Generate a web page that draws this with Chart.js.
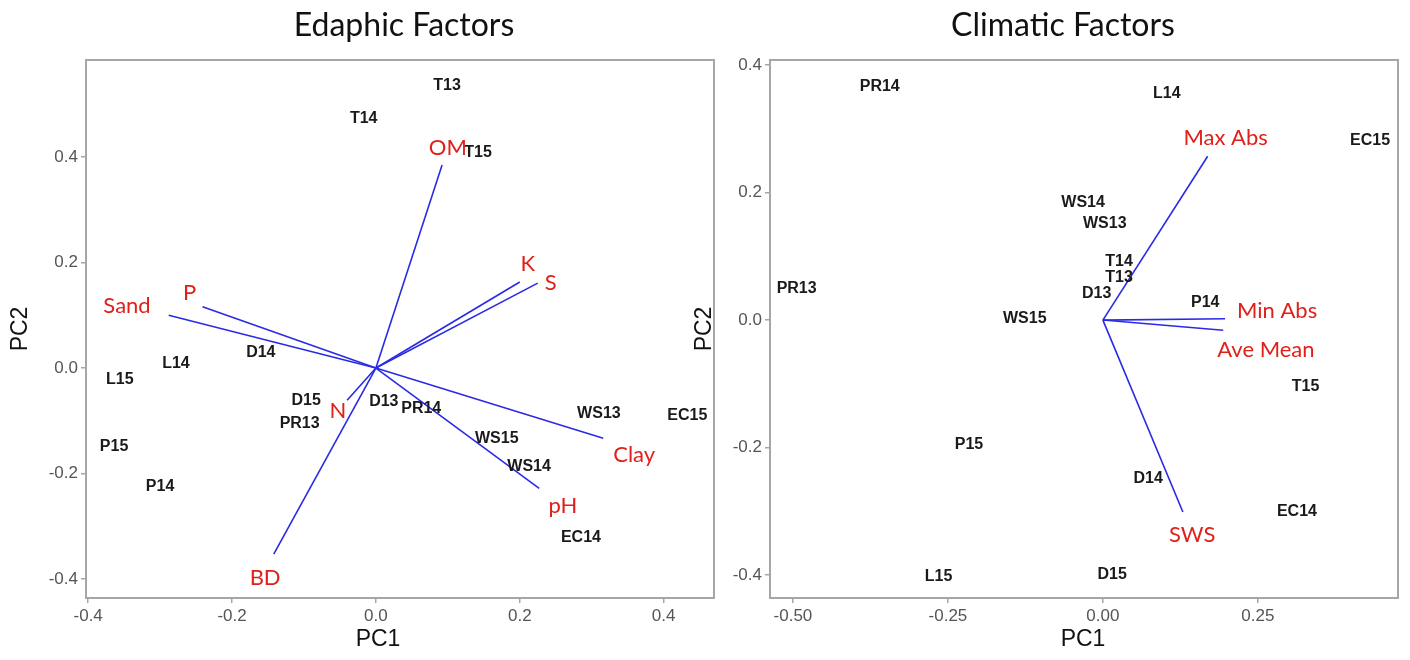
<!DOCTYPE html>
<html>
<head>
<meta charset="utf-8">
<script src="https://cdn.jsdelivr.net/npm/chart.js@4.4.1/dist/chart.umd.min.js"></script>
<style>
  html, body { margin: 0; padding: 0; background: #fff; }
  #wrap { position: relative; width: 1410px; height: 660px; }
  canvas { position: absolute; top: 0; }
  #edaphicChart { left: 0; }
  #climaticChart { left: 690px; }
</style>
</head>
<body>
<div id="wrap">
  <canvas id="edaphicChart" width="720" height="660"></canvas>
  <canvas id="climaticChart" width="720" height="660"></canvas>
</div>
<script>
// ---- Edaphic factors ----
const edaphicSites = ["T13", "T14", "T15", "D14", "L14", "L15", "D15", "PR13", "D13", "PR14", "WS13", "EC15", "WS15", "WS14", "P15", "P14", "EC14"];
const edaphicSitePC1 = [0.099, -0.017, 0.142, -0.160, -0.278, -0.356, -0.097, -0.106, 0.011, 0.063, 0.310, 0.433, 0.168, 0.213, -0.364, -0.300, 0.285];
const edaphicSitePC2 = [0.536, 0.472, 0.408, 0.030, 0.009, -0.021, -0.061, -0.106, -0.063, -0.076, -0.087, -0.091, -0.133, -0.186, -0.148, -0.224, -0.322];

const edaphicVars = ["OM", "K", "S", "Sand", "P", "N", "BD", "Clay", "pH"];
const edaphicLoadPC1 = [0.092, 0.200, 0.225, -0.288, -0.241, -0.040, -0.142, 0.316, 0.227];
const edaphicLoadPC2 = [0.385, 0.163, 0.161, 0.100, 0.116, -0.061, -0.353, -0.133, -0.228];
const edaphicVarLabelPC1 = [0.100, 0.211, 0.243, -0.346, -0.259, -0.053, -0.154, 0.359, 0.260];
const edaphicVarLabelPC2 = [0.417, 0.197, 0.161, 0.118, 0.142, -0.082, -0.398, -0.165, -0.262];

const edaphicXTicks = [-0.4, -0.2, 0, 0.2, 0.4];
const edaphicXTickLabels = ["-0.4", "-0.2", "0.0", "0.2", "0.4"];
const edaphicYTicks = [-0.4, -0.2, 0, 0.2, 0.4];
const edaphicYTickLabels = ["-0.4", "-0.2", "0.0", "0.2", "0.4"];

// ---- Climatic factors ----
const climaticSites = ["PR14", "L14", "EC15", "WS14", "WS13", "T14", "T13", "D13", "PR13", "WS15", "P14", "T15", "P15", "D14", "EC14", "L15", "D15"];
const climaticSitePC1 = [-0.360, 0.103, 0.431, -0.032, 0.003, 0.026, 0.026, -0.010, -0.494, -0.126, 0.165, 0.327, -0.216, 0.073, 0.313, -0.265, 0.015];
const climaticSitePC2 = [0.367, 0.356, 0.282, 0.184, 0.151, 0.091, 0.067, 0.042, 0.049, 0.002, 0.027, -0.104, -0.195, -0.249, -0.300, -0.402, -0.400];

const climaticVars = ["Max Abs", "Min Abs", "Ave Mean", "SWS"];
const climaticLoadPC1 = [0.169, 0.197, 0.194, 0.129];
const climaticLoadPC2 = [0.257, 0.002, -0.016, -0.301];
const climaticVarLabelPC1 = [0.198, 0.281, 0.263, 0.144];
const climaticVarLabelPC2 = [0.285, 0.014, -0.047, -0.337];

const climaticXTicks = [-0.5, -0.25, 0, 0.25];
const climaticXTickLabels = ["-0.50", "-0.25", "0.00", "0.25"];
const climaticYTicks = [-0.4, -0.2, 0, 0.2, 0.4];
const climaticYTickLabels = ["-0.4", "-0.2", "0.0", "0.2", "0.4"];

const tickColor = "#555555";
const frameColor = "#a6a6a6";

// draws frame, point/variable labels, panel title and axis titles
const biplotText = {
  id: "biplotText",
  beforeDatasetsDraw(chart) {
    const { ctx, chartArea: a } = chart;
    ctx.save();
    ctx.strokeStyle = frameColor;
    ctx.lineWidth = 2;
    ctx.strokeRect(a.left, a.top, a.right - a.left, a.bottom - a.top);
    ctx.restore();
  },
  afterDatasetsDraw(chart) {
    const { ctx, chartArea: a } = chart;
    const o = chart.options.plugins.biplotText;
    ctx.save();
    ctx.textAlign = "center";
    ctx.textBaseline = "middle";
    chart.data.datasets.forEach((ds, i) => {
      if (!ds.textLabels) return;
      ctx.fillStyle = ds.textColor;
      ctx.font = ds.textFont;
      chart.getDatasetMeta(i).data.forEach((pt, j) => {
        ctx.fillText(ds.textLabels[j], pt.x, pt.y);
      });
    });

    ctx.fillStyle = "#111";
    ctx.font = "32px Lato";
    ctx.fillText(o.title, (a.left + a.right) / 2 + o.titleShift, 26);

    ctx.font = "23px 'Liberation Sans'";
    ctx.fillText("PC1", (a.left + a.right) / 2 + o.pc1Shift, 640);
    ctx.translate(o.pc2X, (a.top + a.bottom) / 2);
    ctx.rotate(-Math.PI / 2);
    ctx.fillText("PC2", 0, 0);
    ctx.restore();
  }
};

function makeBiplot(id, cfg) {
  const datasets = [];
  cfg.load1.forEach((v, i) => {
    datasets.push({
      data: [{ x: 0, y: 0 }, { x: v, y: cfg.load2[i] }],
      showLine: true,
      borderColor: "#2a2ae6",
      borderWidth: 1.6,
      pointRadius: 0
    });
  });
  datasets.push({
    data: cfg.site1.map((v, i) => ({ x: v, y: cfg.site2[i] })),
    pointRadius: 0,
    textLabels: cfg.sites,
    textColor: "#1a1a1a",
    textFont: "bold 16px 'Liberation Sans'"
  });
  datasets.push({
    data: cfg.lab1.map((v, i) => ({ x: v, y: cfg.lab2[i] })),
    pointRadius: 0,
    textLabels: cfg.vars,
    textColor: "#e0201a",
    textFont: "22px Lato"
  });

  const axis = (min, max, ticks, labels, fit) => ({
    type: "linear",
    min: min,
    max: max,
    afterBuildTicks: s => { s.ticks = ticks.map(v => ({ value: v })); },
    afterFit: fit,
    grid: { drawOnChartArea: false, drawTicks: true, tickLength: 5, color: frameColor, lineWidth: 1.5 },
    border: { display: false },
    ticks: {
      color: tickColor,
      font: { family: "'Liberation Sans'", size: 17 },
      padding: 3,
      maxRotation: 0,
      autoSkip: false,
      callback: (val, idx) => labels[idx]
    }
  });

  return new Chart(document.getElementById(id), {
    type: "scatter",
    data: { datasets: datasets },
    options: {
      responsive: false,
      animation: false,
      layout: { padding: { top: 60, right: cfg.padRight, left: 0, bottom: 0 } },
      scales: {
        x: axis(cfg.xMin, cfg.xMax, cfg.xTicks, cfg.xLabels, s => { s.height = 62; }),
        y: axis(cfg.yMin, cfg.yMax, cfg.yTicks, cfg.yLabels, s => { s.width = cfg.yWidth; })
      },
      plugins: {
        legend: { display: false },
        tooltip: { enabled: false },
        biplotText: cfg.text
      }
    },
    plugins: [biplotText]
  });
}

makeBiplot("edaphicChart", {
  sites: edaphicSites, site1: edaphicSitePC1, site2: edaphicSitePC2,
  vars: edaphicVars, load1: edaphicLoadPC1, load2: edaphicLoadPC2,
  lab1: edaphicVarLabelPC1, lab2: edaphicVarLabelPC2,
  xMin: -0.403, xMax: 0.470, yMin: -0.436, yMax: 0.584,
  xTicks: edaphicXTicks, xLabels: edaphicXTickLabels,
  yTicks: edaphicYTicks, yLabels: edaphicYTickLabels,
  yWidth: 86, padRight: 6,
  text: { title: "Edaphic Factors", titleShift: 4, pc1Shift: -22, pc2X: 21 }
});

makeBiplot("climaticChart", {
  sites: climaticSites, site1: climaticSitePC1, site2: climaticSitePC2,
  vars: climaticVars, load1: climaticLoadPC1, load2: climaticLoadPC2,
  lab1: climaticVarLabelPC1, lab2: climaticVarLabelPC2,
  xMin: -0.537, xMax: 0.476, yMin: -0.436, yMax: 0.408,
  xTicks: climaticXTicks, xLabels: climaticXTickLabels,
  yTicks: climaticYTicks, yLabels: climaticYTickLabels,
  yWidth: 80, padRight: 12,
  text: { title: "Climatic Factors", titleShift: -21, pc1Shift: -1, pc2X: 15 }
});
</script>
</body>
</html>
